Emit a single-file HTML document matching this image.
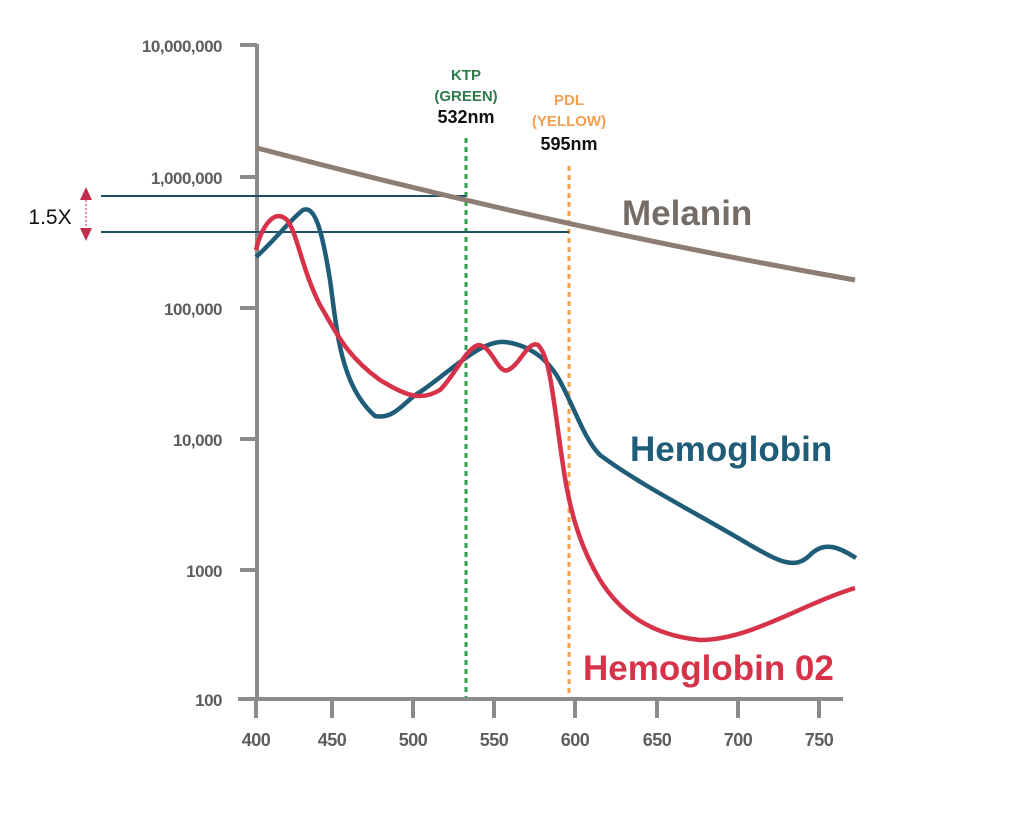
<!DOCTYPE html>
<html><head><style>
body{margin:0;background:#fff;width:1024px;height:821px;overflow:hidden}
svg text{font-family:"Liberation Sans",sans-serif;font-weight:bold}
</style></head><body>
<svg width="1024" height="821" viewBox="0 0 1024 821">
<g stroke="#8c8c8c" stroke-width="4" fill="none">
<line x1="257" y1="44" x2="257" y2="701"/>
<line x1="240" y1="45" x2="257" y2="45"/>
<line x1="240" y1="177" x2="257" y2="177"/>
<line x1="240" y1="308" x2="257" y2="308"/>
<line x1="240" y1="439" x2="257" y2="439"/>
<line x1="240" y1="570" x2="257" y2="570"/>
<line x1="238" y1="699" x2="843" y2="699"/>
<line x1="256" y1="699" x2="256" y2="718"/>
<line x1="332" y1="699" x2="332" y2="718"/>
<line x1="413" y1="699" x2="413" y2="718"/>
<line x1="494" y1="699" x2="494" y2="718"/>
<line x1="575" y1="699" x2="575" y2="718"/>
<line x1="657" y1="699" x2="657" y2="718"/>
<line x1="738" y1="699" x2="738" y2="718"/>
<line x1="819" y1="699" x2="819" y2="718"/>
</g>
<g fill="#5e5e5e" font-size="17" text-anchor="end" style="letter-spacing:-0.5px">
<text x="222" y="52">10,000,000</text>
<text x="222" y="184">1,000,000</text>
<text x="222" y="315">100,000</text>
<text x="222" y="446">10,000</text>
<text x="222" y="577">1000</text>
<text x="222" y="706">100</text>
</g>
<g fill="#5e5e5e" font-size="18" text-anchor="middle" style="letter-spacing:-0.5px">
<text x="256" y="746">400</text><text x="332" y="746">450</text><text x="413" y="746">500</text>
<text x="494" y="746">550</text><text x="575" y="746">600</text><text x="657" y="746">650</text>
<text x="738" y="746">700</text><text x="819" y="746">750</text>
</g>
<line x1="466" y1="138" x2="466" y2="697" stroke="#2e9e4f" stroke-width="3" stroke-dasharray="5,4"/>
<line x1="569" y1="166" x2="569" y2="697" stroke="#f0a050" stroke-width="3" stroke-dasharray="5,4"/>
<g font-size="15" text-anchor="middle">
<text x="466" y="80" fill="#2f7a4a">KTP</text>
<text x="466" y="101" fill="#2f7a4a">(GREEN)</text>
<text x="466" y="123" fill="#111" font-size="18">532nm</text>
<text x="569" y="105" fill="#f0a050">PDL</text>
<text x="569" y="126" fill="#f0a050">(YELLOW)</text>
<text x="569" y="150" fill="#111" font-size="18">595nm</text>
</g>
<line x1="101" y1="196" x2="466" y2="196" stroke="#1f4f66" stroke-width="2"/>
<line x1="101" y1="232" x2="569" y2="232" stroke="#1f4f66" stroke-width="2"/>
<line x1="86" y1="196" x2="86" y2="232" stroke="#c0304a" stroke-width="1" stroke-dasharray="2,2"/>
<polygon points="80,200 92,200 86,187" fill="#c0304a"/>
<polygon points="80,228 92,228 86,241" fill="#c0304a"/>
<text x="50" y="224" font-size="21" fill="#111" text-anchor="middle" style="font-weight:normal">1.5X</text>
<path d="M257,148 Q560,228 855,280" stroke="#8e7d73" stroke-width="5" fill="none"/>
<path d="M256,257 C275,240 290,220 303,210 C315,205 322,230 330,280 C337,330 340,385 375,416 C395,420 405,400 420,392 C450,372 480,340 505,342 C530,345 550,360 562,385 C575,410 585,440 600,455 C640,485 700,515 750,545 C780,562 795,570 810,555 C825,540 840,548 856,558" stroke="#1f5c78" stroke-width="4.5" fill="none"/>
<path d="M256,250 C262,225 275,208 287,220 C297,232 302,270 320,305 C335,330 345,355 380,380 C405,395 420,402 440,390 C455,375 465,350 478,345 C492,345 498,375 508,370 C520,365 528,340 538,345 C548,355 551,380 558,430 C565,480 570,530 600,580 C620,612 650,635 700,640 C750,640 800,605 855,588" stroke="#d6324a" stroke-width="4.5" fill="none"/>
<text x="622" y="225" font-size="35" fill="#756c66">Melanin</text>
<text x="630" y="461" font-size="35" fill="#1f5c78">Hemoglobin</text>
<text x="583" y="680" font-size="35" fill="#d6324a">Hemoglobin 02</text>
</svg>
</body></html>
